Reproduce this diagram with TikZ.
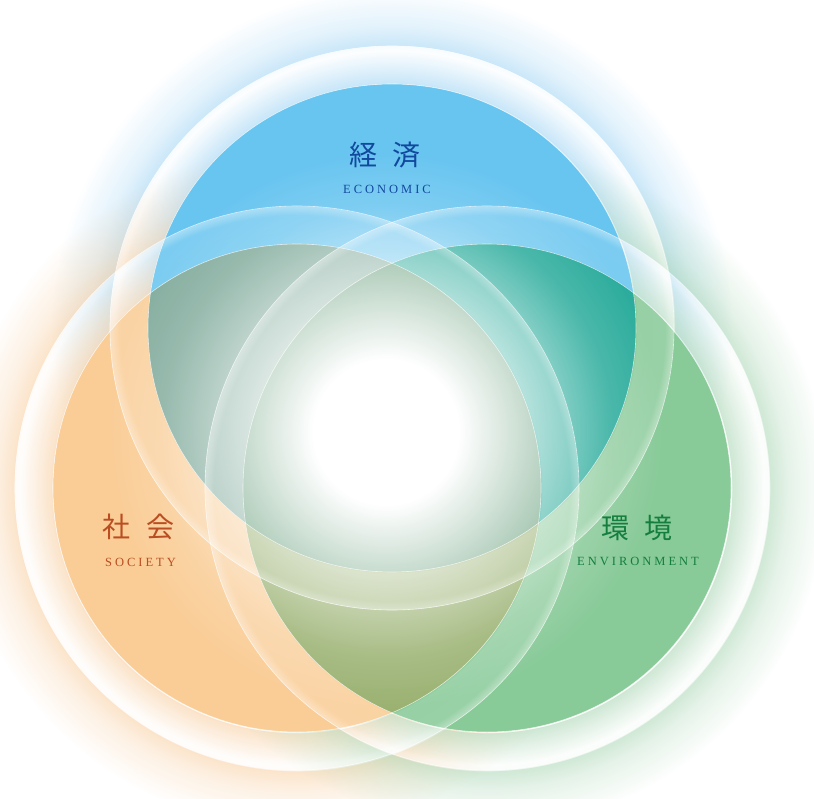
\documentclass[tikz,border=0pt]{standalone}
\usepackage{fontspec}
\usepackage{xcolor}
\usepackage{tikz}
\setmainfont{Liberation Serif}
\newfontfamily\jpfont{Noto Sans CJK JP}
\newfontfamily\capfont[LetterSpace=24]{Liberation Serif}
\definecolor{ecoblue}{RGB}{104,197,240}
\definecolor{socorange}{RGB}{250,205,150}
\definecolor{envgreen}{RGB}{136,202,152}
\definecolor{ecoteal}{RGB}{0,172,150}
\definecolor{ecoglow}{RGB}{160,212,244}
\definecolor{socglow}{RGB}{248,206,160}
\definecolor{envglow}{RGB}{170,214,180}
\definecolor{ecotext}{RGB}{18,72,158}
\definecolor{soctext}{RGB}{186,78,34}
\definecolor{envtext}{RGB}{20,126,62}
\usetikzlibrary{fadings, positioning}

\pgfdeclareradialshading{haloshade}{\pgfpointorigin}{color(0bp)=(pgftransparent); color(17.9bp)=(pgftransparent); color(17.94bp)=(pgftransparent!35); color(20.3bp)=(pgftransparent!95); color(20.66bp)=(pgftransparent!90); color(20.74bp)=(pgftransparent!45); color(22.1bp)=(pgftransparent!70); color(25bp)=(pgftransparent); color(50bp)=(pgftransparent)}
\pgfdeclarefading{halofade}{\pgfuseshading{haloshade}}
\pgfdeclareradialshading{bandshade}{\pgfpointorigin}{color(0bp)=(pgftransparent); color(21.6bp)=(pgftransparent); color(21.65bp)=(pgftransparent!88); color(24.1bp)=(pgftransparent!86); color(24.8bp)=(pgftransparent!62); color(25bp)=(pgftransparent!62); color(25.05bp)=(pgftransparent); color(50bp)=(pgftransparent)}
\pgfdeclarefading{bandfade}{\pgfuseshading{bandshade}}
\pgfdeclareradialshading{coreshade}{\pgfpointorigin}{color(0bp)=(pgftransparent!0); color(6.5bp)=(pgftransparent!0); color(13.5bp)=(pgftransparent!45); color(20bp)=(pgftransparent!85); color(25bp)=(pgftransparent); color(50bp)=(pgftransparent)}
\pgfdeclarefading{corefade}{\pgfuseshading{coreshade}}

\begin{document}
\begin{tikzpicture}[
    x=1pt, y=-1pt,
    halo/.style={path fading=halofade},
    band/.style={white, path fading=bandfade},
    rim/.style={white, line width=0.6pt, opacity=0.7},
    jplabel/.style={font=\jpfont\fontsize{28}{28}\selectfont, inner sep=0pt},
    caplabel/.style={font=\capfont\fontsize{12.5}{12.5}\selectfont, inner sep=0pt}
]
    \useasboundingbox (0,0) rectangle (814,799);
    \clip (0,0) rectangle (814,799);

    \coordinate (eco) at (392,328);
    \coordinate (soc) at (297,488);
    \coordinate (env) at (487,488);
    \coordinate (core) at (386,432);

    \fill[halo, ecoglow] (eco) circle (340pt);
    \fill[halo, socglow] (soc) circle (340pt);
    \fill[halo, envglow] (env) circle (340pt);

    \begin{scope}[transparency group]
        \begin{scope}[blend mode=multiply]
            \fill[ecoblue] (eco) circle (244pt);
            \fill[socorange] (soc) circle (244pt);
            \fill[envgreen] (env) circle (244pt);
        \end{scope}
        \fill[ecoblue, opacity=0.22] (eco) circle (244pt);
        \fill[socorange, opacity=0.22] (soc) circle (244pt);
        \fill[envgreen, opacity=0.22] (env) circle (244pt);
        \begin{scope}
            \clip (eco) circle (244pt);
            \clip (env) circle (244pt);
            \fill[ecoteal, opacity=0.45, even odd rule] (0,0) rectangle (814,799) (soc) circle (244pt);
        \end{scope}
    \end{scope}

    \fill[band] (eco) circle (282pt);
    \fill[band] (soc) circle (282pt);
    \fill[band] (env) circle (282pt);

    \fill[white, path fading=corefade] (core) circle (280pt);

    \foreach \c in {eco, soc, env} {
        \draw[rim] (\c) circle (244pt) (\c) circle (282pt);
    }

    \node[jplabel, ecotext] (ecoJ) at (385,155) {経\hspace{0.55em}済};
    \node[caplabel, ecotext] (ecoE) at (387,189.5) {ECONOMIC};
    \node[jplabel, soctext] (socJ) at (138.5,527) {社\hspace{0.55em}会};
    \node[caplabel, soctext] (socE) at (140.5,562.5) {SOCIETY};
    \node[jplabel, envtext] (envJ) at (637,528) {環\hspace{0.55em}境};
    \node[caplabel, envtext] (envE) at (638,561.5) {ENVIRONMENT};
\end{tikzpicture}
\end{document}
